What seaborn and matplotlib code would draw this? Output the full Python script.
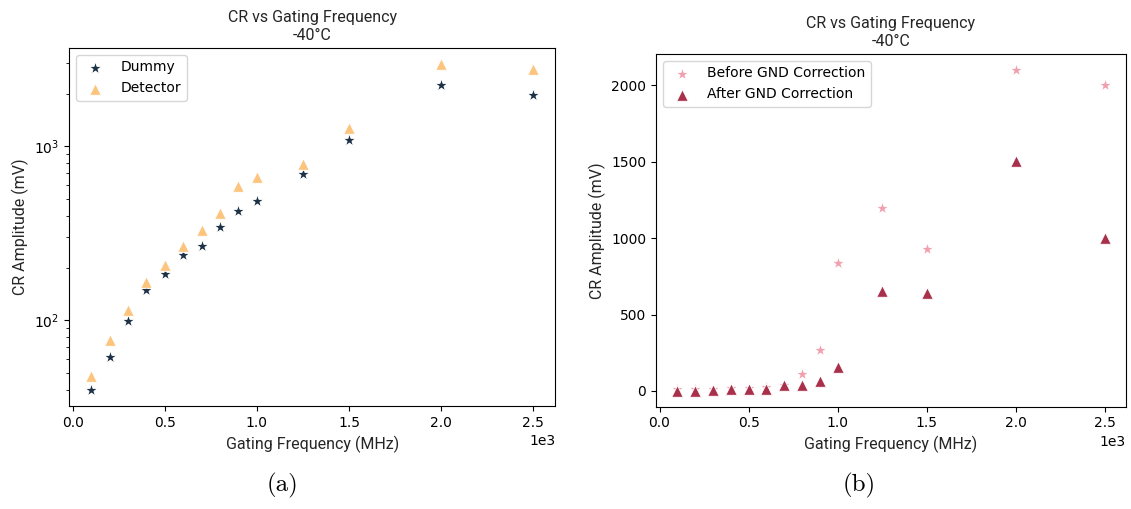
import matplotlib
matplotlib.use("Agg")
import matplotlib.pyplot as plt
import seaborn as sns
import numpy as np
import pandas as pd

# ---- data ----
freq_a = [100, 200, 300, 400, 500, 600, 700, 800, 900, 1000, 1250, 1500, 2000, 2500]
dummy = [40, 62, 99, 149, 186, 237, 268, 343, 425, 485, 690, 1085, 2250, 1970]
detector = [48, 77, 115, 166, 207, 266, 330, 415, 595, 670, 790, 1270, 2960, 2780]

freq_b = [100, 200, 300, 400, 500, 600, 700, 800, 900, 1000, 1250, 1500, 2000, 2500]
before_gnd = [10, 12, 15, 20, 22, 25, 42, 113, 270, 840, 1200, 930, 2100, 2000]
after_gnd = [2, 3, 5, 10, 12, 15, 37, 40, 62, 155, 652, 642, 1502, 1002]

title_txt = "CR vs Gating Frequency\n-40°C"
xlabel_txt = "Gating Frequency (MHz)"
ylabel_txt = "CR Amplitude (mV)"

c_dummy = "#1d3247"
c_detector = "#fcc47c"
c_before = "#f0a0ae"
c_after = "#a8304a"

label_font = dict(family="Roboto", fontweight="normal", fontsize=11.5, color="#262626")

fig = plt.figure(figsize=(11.31, 5.09), dpi=100)
ax1 = fig.add_axes([0.061, 0.2024, 0.430, 0.7033])
ax2 = fig.add_axes([0.580, 0.2010, 0.4156, 0.6930])

star_s = 105
tri_s = 70

sns.scatterplot(x=freq_a, y=dummy, marker="*", color=c_dummy, s=star_s, ax=ax1, label="Dummy")
sns.scatterplot(x=freq_a, y=detector, marker="^", color=c_detector, s=tri_s, ax=ax1, label="Detector")
ax1.set_yscale("log")

sns.scatterplot(x=freq_b, y=before_gnd, marker="*", color=c_before, s=star_s, ax=ax2, label="Before GND Correction")
sns.scatterplot(x=freq_b, y=after_gnd, marker="^", color=c_after, s=tri_s, ax=ax2, label="After GND Correction")

for ax in (ax1, ax2):
    ax.set_title(title_txt, **label_font)
    ax.set_xlabel(xlabel_txt, **label_font)
    ax.set_ylabel(ylabel_txt, **label_font)
    ax.ticklabel_format(axis="x", style="sci", scilimits=(0, 0))
    ax.legend(loc="upper left", fontsize=10)
    for s in ax.spines.values():
        s.set_color("black")

ax2.set_yticks([0, 500, 1000, 1500, 2000])

fig.text(0.250, 0.035, "(a)", family="cmr10", fontsize=18, ha="center")
fig.text(0.760, 0.035, "(b)", family="cmr10", fontsize=18, ha="center")

fig.savefig("out.png", dpi=100)
